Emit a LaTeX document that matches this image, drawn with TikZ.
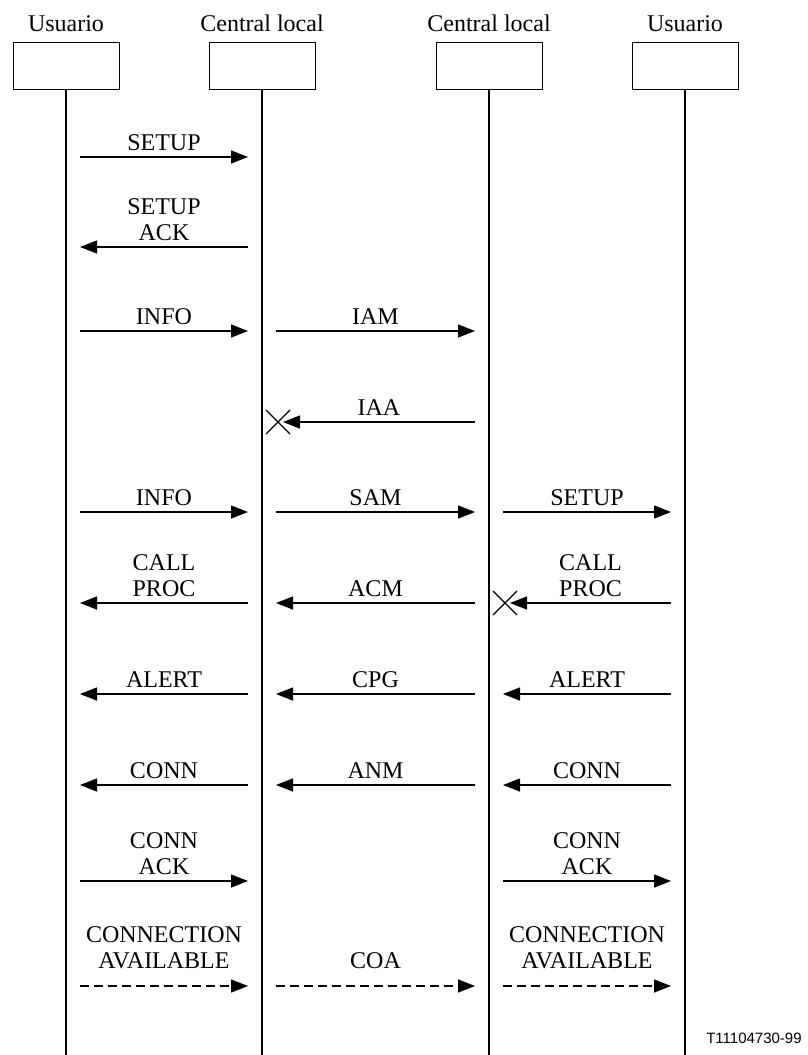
\documentclass[tikz,border=0pt]{standalone}
\usepackage{fontspec}
\setmainfont{Liberation Serif}
\newfontfamily\tagfont{Liberation Sans}
\usetikzlibrary{arrows.meta,calc}
\newcommand\mymsg[6][6]{%
  \coordinate (yy) at (0,#4);
  \draw[#6] ($(#2|-yy)!14pt!(#3|-yy)$) -- coordinate (mm) ($(#3|-yy)!14pt!(#2|-yy)$);
  \node[lbl] at ([yshift=#1pt]mm) {#5};}
\newcommand\mylost[5]{%
  \coordinate (yy) at (0,#3);
  \coordinate (xx) at ($(#2|-yy)!16pt!(#1|-yy)$);
  \draw[msg] ($(#1|-yy)!14pt!(#2|-yy)$) -- coordinate (mm) ($(#2|-yy)!#5pt!(#1|-yy)$);
  \draw[line width=1.2pt] ($(xx)+(-12,-12)$) -- ($(xx)+(12,12)$) ($(xx)+(-12,12)$) -- ($(xx)+(12,-12)$);
  \node[lbl] at ([yshift=6pt]mm) {#4};}
\begin{document}
\begin{tikzpicture}[x=1pt,y=-1pt,
  box/.style={draw,line width=1pt,minimum width=106pt,minimum height=47pt,inner sep=0},
  ttl/.style={font=\fontsize{24}{26}\selectfont,inner sep=0,anchor=base},
  life/.style={line width=2pt},
  msg/.style={line width=1.4pt,-{Triangle[length=17pt,width=13pt]}},
  dmsg/.style={msg,dash pattern=on 9pt off 5pt},
  lbl/.style={font=\fontsize{24}{26}\selectfont,inner sep=0,anchor=south,text depth=0pt,align=center}]
\useasboundingbox (0,0) rectangle (807,1055);
\node[box] (b1) at (66,65.5) {};
\node[box] (b2) at (262,65.5) {};
\node[box] (b3) at (489,65.5) {};
\node[box] (b4) at (685,65.5) {};
\node[ttl] (t1) at ($(b1.north)+(0,-10)$) {Usuario};
\node[ttl] (t2) at ($(b2.north)+(0,-10)$) {Central local};
\node[ttl] (t3) at ($(b3.north)+(0,-10)$) {Central local};
\node[ttl] (t4) at ($(b4.north)+(0,-10)$) {Usuario};
\foreach \i in {1,2,3,4}{
  \coordinate (e\i) at (b\i |- 0,1055);
  \draw[life] (b\i.south) -- (e\i);}
% messages
\mymsg{b1}{b2}{157}{SETUP}{msg}
\mymsg{b2}{b1}{247}{SETUP\\ACK}{msg}
\mymsg{b1}{b2}{331}{INFO}{msg}
\mymsg{b2}{b3}{331}{IAM}{msg}
\mylost{b3}{b2}{422}{IAA}{21}
\mymsg{b1}{b2}{512}{INFO}{msg}
\mymsg{b2}{b3}{512}{SAM}{msg}
\mymsg{b3}{b4}{512}{SETUP}{msg}
\mymsg{b2}{b1}{603}{CALL\\PROC}{msg}
\mymsg{b3}{b2}{603}{ACM}{msg}
\mylost{b4}{b3}{603}{CALL\\PROC}{21}
\mymsg{b2}{b1}{694}{ALERT}{msg}
\mymsg{b3}{b2}{694}{CPG}{msg}
\mymsg{b4}{b3}{694}{ALERT}{msg}
\mymsg{b2}{b1}{785}{CONN}{msg}
\mymsg{b3}{b2}{785}{ANM}{msg}
\mymsg{b4}{b3}{785}{CONN}{msg}
\mymsg{b1}{b2}{881}{CONN\\ACK}{msg}
\mymsg{b3}{b4}{881}{CONN\\ACK}{msg}
\mymsg[17]{b1}{b2}{986}{CONNECTION\\AVAILABLE}{dmsg}
\mymsg[17]{b2}{b3}{986}{COA}{dmsg}
\mymsg[17]{b3}{b4}{986}{CONNECTION\\AVAILABLE}{dmsg}
\node[font=\tagfont\fontsize{15}{15}\selectfont,inner sep=0] (tag) at (754,1038) {T11104730-99};
\end{tikzpicture}
\end{document}
